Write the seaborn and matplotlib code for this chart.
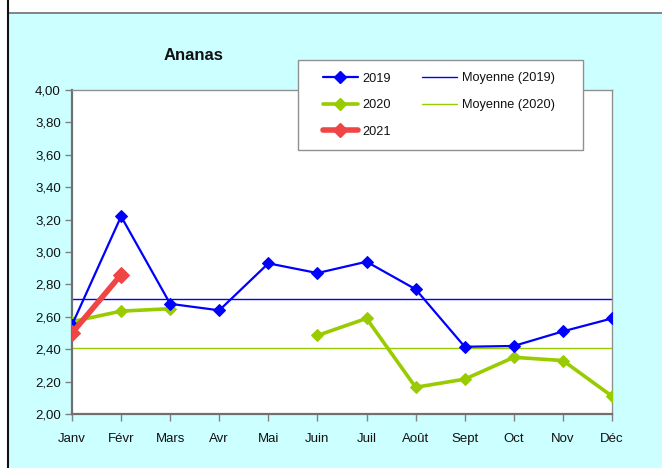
import numpy as np
import pandas as pd
import matplotlib
matplotlib.use("Agg")
import matplotlib.pyplot as plt
import seaborn as sns
from matplotlib.patches import Rectangle
from matplotlib.lines import Line2D

months = ["Janv", "Févr", "Mars", "Avr", "Mai", "Juin", "Juil", "Août", "Sept", "Oct", "Nov", "Déc"]
v2019 = [2.55, 3.22, 2.68, 2.64, 2.93, 2.87, 2.94, 2.77, 2.415, 2.42, 2.51, 2.59]
v2020 = [2.57, 2.635, 2.65, np.nan, np.nan, 2.485, 2.59, 2.165, 2.215, 2.35, 2.33, 2.11]
v2021 = [2.50, 2.86] + [np.nan] * 10
yticks = [2.0, 2.2, 2.4, 2.6, 2.8, 3.0, 3.2, 3.4, 3.6, 3.8, 4.0]

c19 = "#0000FF"
c20 = "#99CC00"
c21 = "#F04545"

sns.set_theme(style="white")
plt.rcParams["font.family"] = ["Liberation Sans", "DejaVu Sans"]

W, H = 662, 468
fig = plt.figure(figsize=(W / 100, H / 100), dpi=100)
fig.patch.set_facecolor("white")
fig.add_artist(Rectangle((9 / W, 0), 1 - 9 / W, 1 - 13 / H, transform=fig.transFigure,
                         facecolor="#CCFFFF", edgecolor="none", zorder=0))
fig.add_artist(Line2D([9 / W, 1], [1 - 12.5 / H, 1 - 12.5 / H], transform=fig.transFigure,
                      color="#707070", lw=1.2, zorder=1))
fig.add_artist(Line2D([8 / W, 8 / W], [0, 1], transform=fig.transFigure,
                      color="#111111", lw=1.5, zorder=1))

ax = fig.add_axes([72 / W, 1 - 414 / H, 540 / W, 324 / H])
ax.set_facecolor("white")

x = np.arange(len(months))


def segments(vals):
    s = pd.Series(vals)
    seg = s.isna().cumsum()
    df = pd.DataFrame({"x": x, "y": s, "seg": seg}).dropna()
    return df


d19 = segments(v2019)
d20 = segments(v2020)
d21 = segments(v2021)

m19 = np.nanmean(v2019)
m20 = np.nanmean(v2020)
ax.axhline(m19, color=c19, lw=1.0, zorder=2)
ax.axhline(m20, color=c20, lw=1.0, zorder=2)

sns.lineplot(data=d20, x="x", y="y", units="seg", estimator=None, ax=ax, color=c20,
             lw=2.6, marker="D", markersize=6.5, markeredgecolor=c20, zorder=3)
sns.lineplot(data=d19, x="x", y="y", units="seg", estimator=None, ax=ax, color=c19,
             lw=1.6, marker="D", markersize=6.5, markeredgecolor=c19, zorder=4)
sns.lineplot(data=d21, x="x", y="y", units="seg", estimator=None, ax=ax, color=c21,
             lw=4, marker="D", markersize=8.5, markeredgecolor=c21, zorder=5)

ax.set_xlim(0, 11)
ax.set_ylim(2.0, 4.0)
ax.set_xticks(x)
ax.set_xticklabels(months, fontsize=9.5, color="#111111")
ax.set_yticks(yticks)
ax.set_yticklabels([f"{v:.2f}".replace(".", ",") for v in yticks], fontsize=9.5, color="#111111")
ax.tick_params(axis="x", direction="out", length=5, width=1, color="#808080", pad=9, bottom=True)
ax.tick_params(axis="y", direction="out", length=5, width=1, color="#808080", pad=3, left=True)
ax.set_xlabel("")
ax.set_ylabel("")
for side in ["left", "bottom"]:
    ax.spines[side].set_color("#707070")
    ax.spines[side].set_linewidth(1.6)
for side in ["top", "right"]:
    ax.spines[side].set_color("#909090")
    ax.spines[side].set_linewidth(1.0)

fig.text(194 / W, 1 - 55 / H, "Ananas", fontsize=12, fontweight="bold", ha="center", va="center",
         color="#111111")

# legend
fig.add_artist(Rectangle((298 / W, 1 - 150 / H), 285 / W, 90 / H, transform=fig.transFigure,
                         facecolor="white", edgecolor="#909090", lw=1.0, zorder=10))
handles = [
    Line2D([], [], color=c19, lw=1.6, marker="D", markersize=6, markeredgecolor=c19),
    Line2D([], [], color=c20, lw=2.6, marker="D", markersize=6.5, markeredgecolor=c20),
    Line2D([], [], color=c21, lw=4, marker="D", markersize=7, markeredgecolor=c21),
    Line2D([], [], color=c19, lw=1.0),
    Line2D([], [], color=c20, lw=1.0),
]
labels = ["2019", "2020", "2021", "Moyenne (2019)", "Moyenne (2020)"]
leg = fig.legend(handles, labels, ncol=2, loc="upper left",
                 bbox_to_anchor=(323 / W, 1 - 72.5 / H), frameon=False, borderpad=0,
                 borderaxespad=0, fontsize=9.2, handlelength=2.7, handletextpad=0.4,
                 columnspacing=2.45, labelspacing=1.15, numpoints=1)
leg.set_zorder(11)
for t in leg.get_texts():
    t.set_color("#111111")

fig.savefig("out.png", dpi=100, facecolor=fig.get_facecolor())
